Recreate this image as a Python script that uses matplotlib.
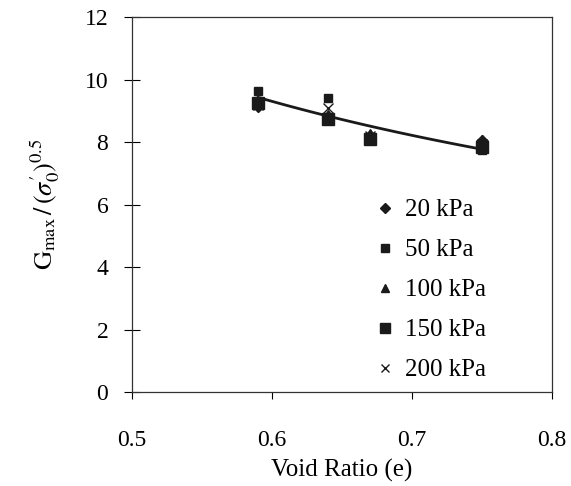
import matplotlib
matplotlib.use("Agg")
import matplotlib.pyplot as plt
import numpy as np

plt.rcParams['font.family'] = ['Liberation Serif', 'DejaVu Serif']
plt.rcParams['mathtext.fontset'] = 'stix'

void_ratio = [0.59, 0.64, 0.67, 0.75]
labels = ['20 kPa', '50 kPa', '100 kPa', '150 kPa', '200 kPa']
g20 = [9.15, 8.80, 8.20, 8.05]
g50 = [9.62, 9.40, 8.10, 7.75]
g100 = [9.30, 8.90, 8.30, 8.10]
g150 = [9.25, 8.75, 8.10, 7.85]
g200 = [9.20, 9.10, 8.20, 7.95]
series = [g20, g50, g100, g150, g200]
markers = ['D', 's', '^', 's', 'x']
sizes = [6, 6, 6, 8, 7]

# trend line (power law) end points
trend_e = [0.59, 0.75]
trend_g = [9.43, 7.77]

xticks = [0.5, 0.6, 0.7, 0.8]
yticks = [0, 2, 4, 6, 8, 10, 12]

fig = plt.figure(figsize=(5.71, 4.86), dpi=100)
ax = fig.add_axes([0.231, 0.193, 0.736, 0.772])

for vals, lab, m, s in zip(series, labels, markers, sizes):
    ax.plot(void_ratio, vals, linestyle='none', marker=m, markersize=s,
            color='#1a1a1a', label=lab)

b = np.log(trend_g[1] / trend_g[0]) / np.log(trend_e[1] / trend_e[0])
a = trend_g[0] / trend_e[0] ** b
xs = np.linspace(trend_e[0], trend_e[1], 100)
ax.plot(xs, a * xs ** b, color='#1a1a1a', lw=2)

ax.set_xlim(0.5, 0.8)
ax.set_ylim(0, 12)
ax.set_xticks(xticks)
ax.set_xticklabels([f'{v:.1f}' for v in xticks])
ax.set_yticks(yticks)
ax.tick_params(axis='y', direction='inout', length=12, labelsize=17, width=0.8, pad=11)
ax.tick_params(axis='x', direction='out', length=5, labelsize=17, width=0.8, pad=22)
for sp in ax.spines.values():
    sp.set_color('#333333')
    sp.set_linewidth(0.9)

ax.set_xlabel('Void Ratio (e)', fontsize=18, labelpad=6)
ax.set_ylabel(r"$\mathrm{G}_{\max}\,/\,(\sigma_0^{\prime})^{0.5}$", fontsize=19, labelpad=16)

ax.legend(loc='upper left', bbox_to_anchor=(0.573, 0.515), frameon=False,
          fontsize=18, handletextpad=0.3, labelspacing=0.7, handlelength=1.0,
          borderaxespad=0, borderpad=0, markerscale=0.85)

fig.savefig('out.png', dpi=100)
